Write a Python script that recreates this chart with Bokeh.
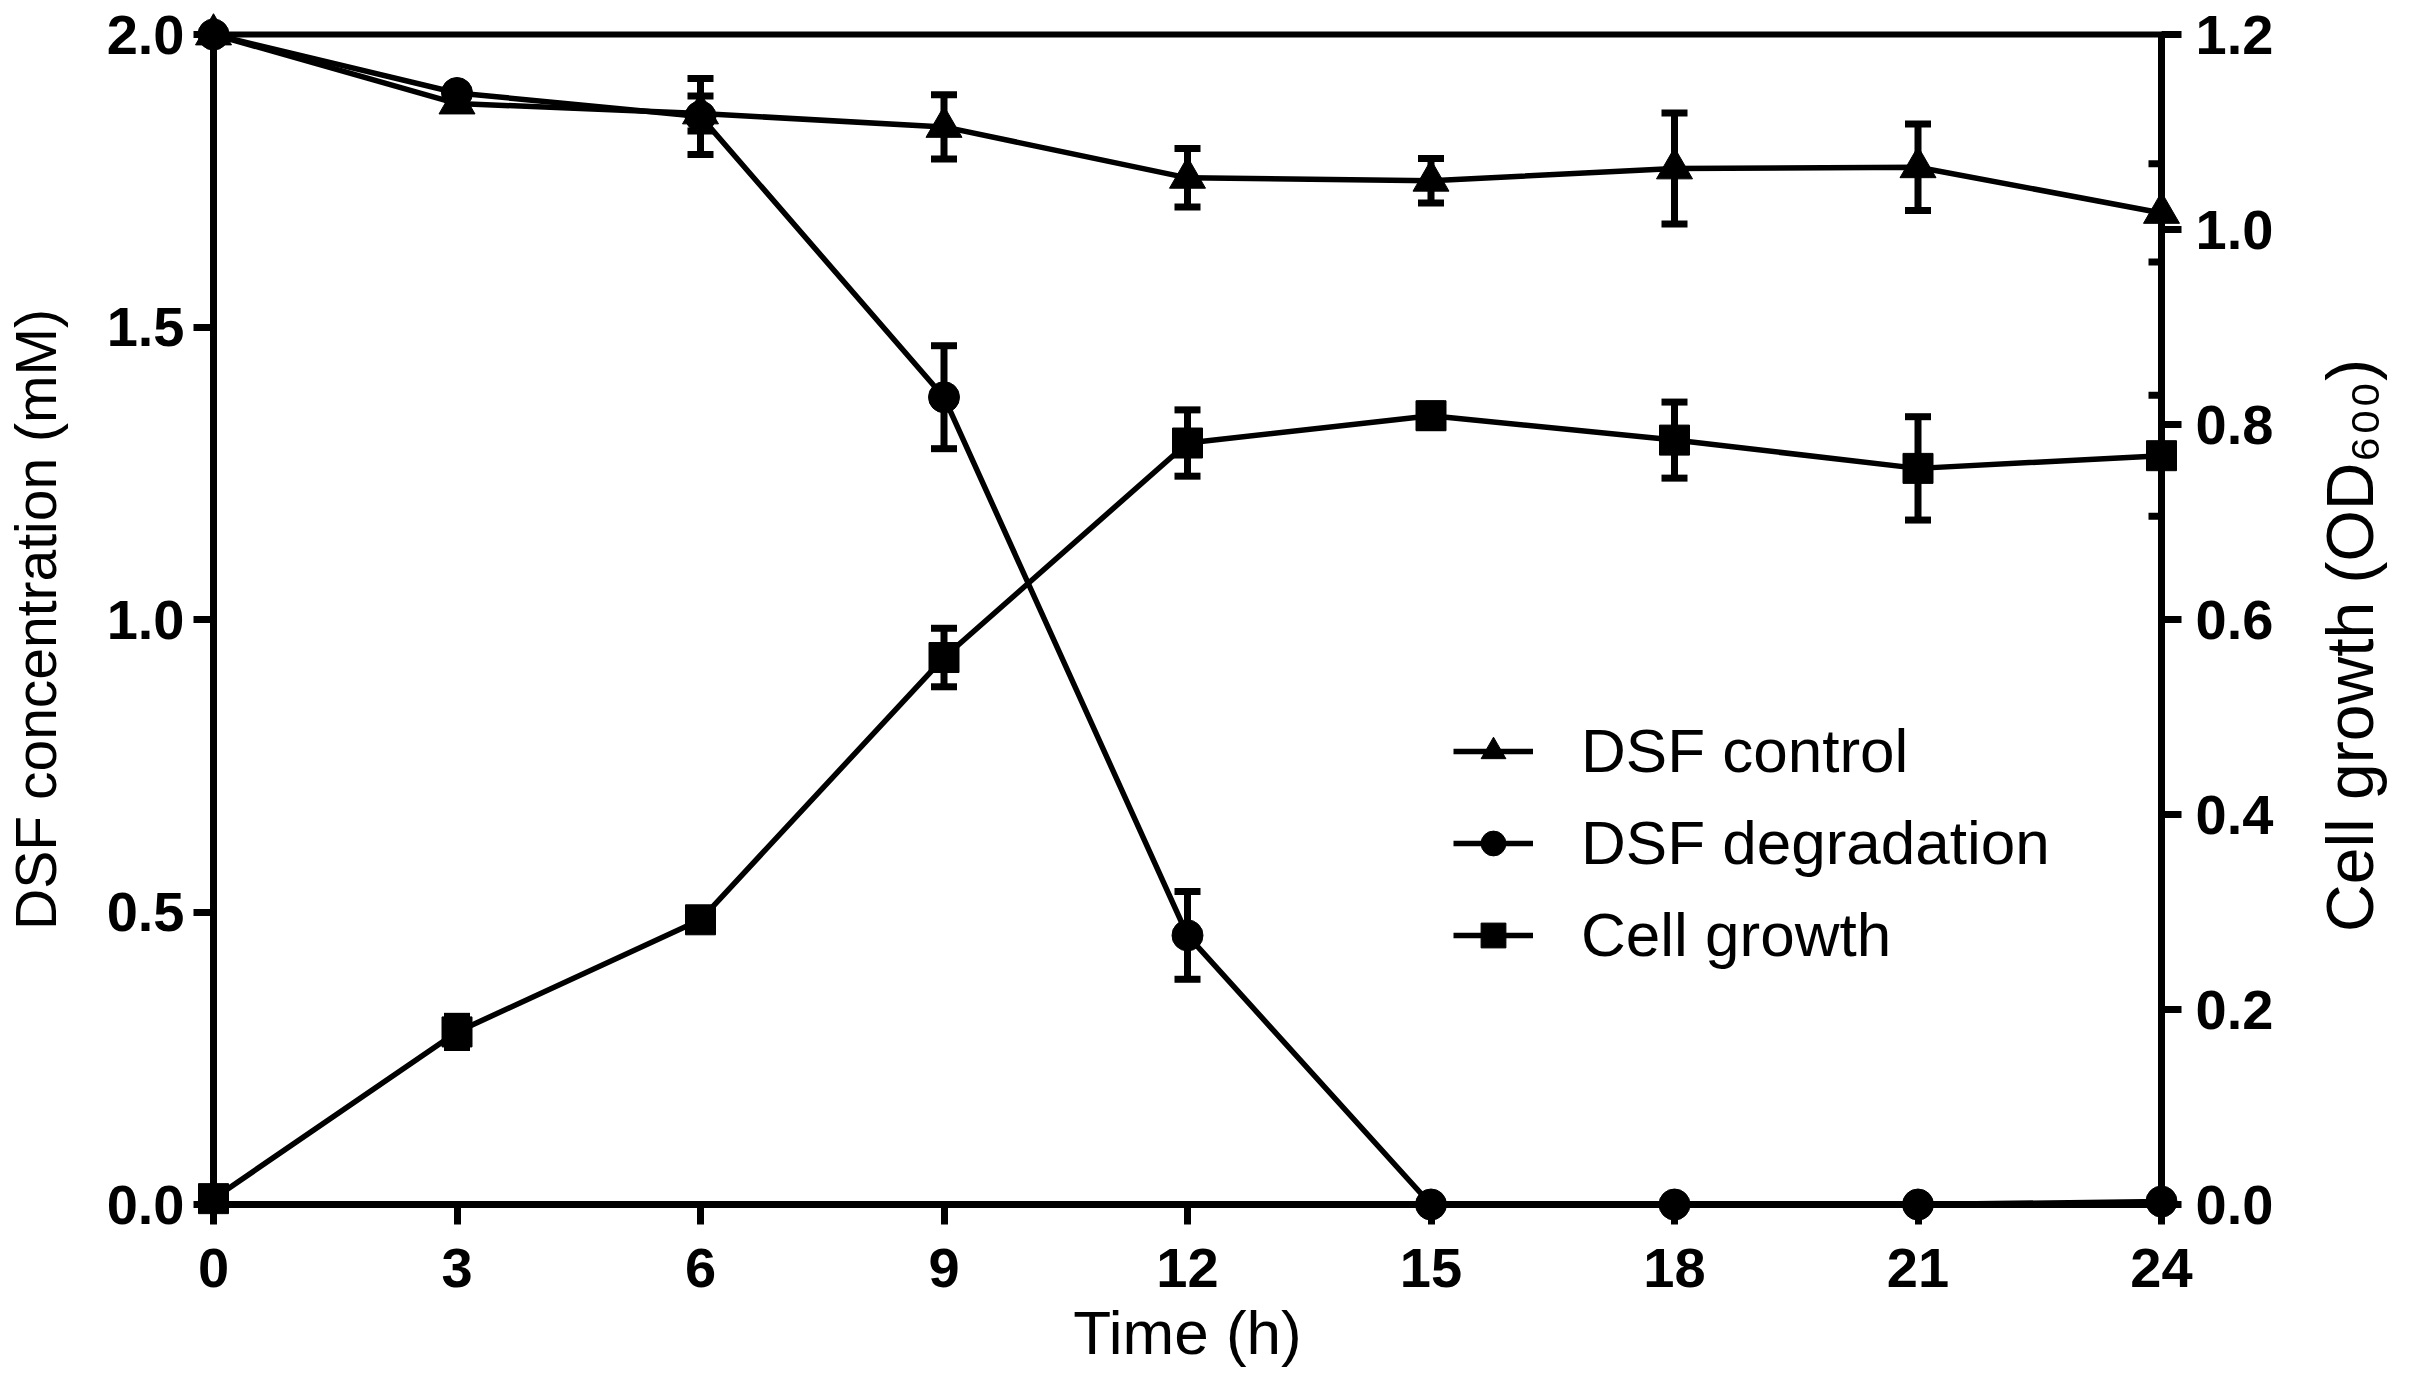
import math
from bokeh.plotting import figure
from bokeh.models import Range1d, LinearAxis, FixedTicker, NumeralTickFormatter, Legend, LegendItem
from bokeh.core.properties import value
from bokeh.embed import file_html
from bokeh.resources import INLINE

# ---- data ----
time_h = [0, 3, 6, 9, 12, 15, 18, 21, 24]
dsf_control = [2.0, 1.882, 1.865, 1.842, 1.755, 1.75, 1.771, 1.773, 1.695]
dsf_control_err = [0.0, 0.01, 0.03, 0.055, 0.05, 0.038, 0.095, 0.074, 0.084]
dsf_degradation = [2.0, 1.90, 1.86, 1.38, 0.46, 0.0, 0.0, 0.0, 0.005]
dsf_degradation_err = [0.0, 0.01, 0.065, 0.088, 0.075, 0.0, 0.0, 0.0, 0.0]
cell_growth = [0.006, 0.177, 0.292, 0.561, 0.781, 0.809, 0.784, 0.755, 0.768]
cell_growth_err = [0.0, 0.016, 0.008, 0.03, 0.034, 0.012, 0.039, 0.053, 0.062]

x_ticks = [0, 3, 6, 9, 12, 15, 18, 21, 24]
left_ticks = [0.0, 0.5, 1.0, 1.5, 2.0]
right_ticks = [0.0, 0.2, 0.4, 0.6, 0.8, 1.0, 1.2]
right_label = "Cell growth (OD\u2086\u2080\u2080)"

FONT = "Liberation Sans"
LW = 5.5
EW = 7
AXW = 7

p = figure(width=2400, height=1374, output_backend="svg", toolbar_location=None,
           x_range=Range1d(0, 24), y_range=Range1d(0, 2.0),
           min_border_left=212, min_border_right=239, min_border_top=34, min_border_bottom=170,
           x_axis_label="Time (h)", y_axis_label="DSF concentration (mM)")
p.extra_y_ranges = {"od": Range1d(0, 1.2)}
p.grid.visible = False
p.outline_line_color = "black"
p.outline_line_width = 6
p.background_fill_color = "white"
p.border_fill_color = "white"

right = LinearAxis(y_range_name="od")
p.add_layout(right, "right")

for ax in p.xaxis:
    ax.ticker = FixedTicker(ticks=x_ticks)
    ax.major_label_standoff = 24
    ax.axis_label_standoff = 8
    ax.axis_label_text_font_size = "62px"
for ax in p.yaxis:
    ax.formatter = NumeralTickFormatter(format="0.0")
p.yaxis[0].ticker = FixedTicker(ticks=left_ticks)
p.yaxis[0].major_label_standoff = 9
p.yaxis[0].axis_label_standoff = 36
p.yaxis[0].axis_label_text_font_size = "57px"
right.ticker = FixedTicker(ticks=right_ticks)
right.major_label_standoff = 14

for ax in list(p.xaxis) + list(p.yaxis):
    ax.axis_line_width = AXW
    ax.axis_line_color = "black"
    ax.major_tick_line_width = AXW
    ax.major_tick_line_color = "black"
    ax.major_tick_in = 0
    ax.major_tick_out = 20
    ax.minor_tick_line_color = None
    ax.major_label_text_font = FONT
    ax.major_label_text_font_style = "bold"
    ax.major_label_text_font_size = "56px"
    ax.major_label_text_color = "black"
    ax.axis_label_text_font = FONT
    ax.axis_label_text_font_style = "normal"
    ax.axis_label_text_color = "black"

# right axis title, reading bottom-to-top like the left one
p.text(x=[24], y=[1.0], text=[right_label], angle=math.pi / 2, x_offset=188, y_offset=26,
       text_align="center", text_baseline="middle", text_font=value(FONT),
       text_font_size="66px", text_color="black", level="overlay")

def series(y, err, marker, size, range_name="default"):
    kw = {} if range_name == "default" else {"y_range_name": range_name}
    lo = [a - e for a, e in zip(y, err)]
    hi = [a + e for a, e in zip(y, err)]
    p.segment(x0=time_h, y0=lo, x1=time_h, y1=hi, line_color="black", line_width=EW, **kw)
    p.scatter(x=time_h, y=lo, marker="dash", size=26, line_color="black", line_width=EW, **kw)
    p.scatter(x=time_h, y=hi, marker="dash", size=26, line_color="black", line_width=EW, **kw)
    ln = p.line(x=time_h, y=y, line_color="black", line_width=LW, **kw)
    sc = p.scatter(x=time_h, y=y, marker=marker, size=size, fill_color="black", line_color="black",
                   level="overlay", **kw)
    return ln, sc

l1, s1 = series(dsf_control, dsf_control_err, "triangle", 36)
l2, s2 = series(dsf_degradation, dsf_degradation_err, "circle", 31)
l3, s3 = series(cell_growth, cell_growth_err, "square", 30, "od")

legend = Legend(items=[LegendItem(label="DSF control", renderers=[l1, s1]),
                       LegendItem(label="DSF degradation", renderers=[l2, s2]),
                       LegendItem(label="Cell growth", renderers=[l3, s3])],
                location=(1240, 234), orientation="vertical")
legend.border_line_alpha = 0
legend.background_fill_alpha = 0
legend.padding = 0
legend.margin = 0
legend.spacing = 21
legend.glyph_width = 80
legend.glyph_height = 62
legend.label_height = 62
legend.label_standoff = 48
legend.label_text_font = FONT
legend.label_text_font_size = "62px"
legend.label_text_color = "black"
p.add_layout(legend, "center")

open("out.html", "w").write(file_html(p, INLINE))
